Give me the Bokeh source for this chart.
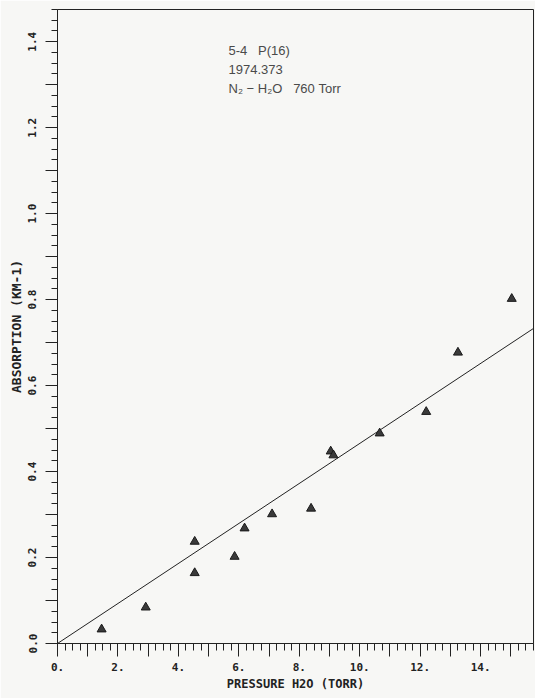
from bokeh.plotting import figure
from bokeh.models import Range1d, FixedTicker, CustomJSTickFormatter, Label
from bokeh.embed import file_html
from bokeh.resources import INLINE

# measured points: H2O pressure (Torr) vs absorption (km-1)
pressure = [1.46, 2.92, 4.54, 4.54, 5.86, 6.19, 7.10, 8.39, 9.04, 9.13, 10.66, 12.20, 13.25, 15.03]
absorption = [0.033, 0.084, 0.237, 0.164, 0.202, 0.268, 0.301, 0.314, 0.447, 0.438, 0.489, 0.539, 0.677, 0.802]

# fitted straight line (end points)
fit_x = [0.0, 15.75]
fit_y = [0.0, 0.733]

NB = "\u00a0"
annotation_lines = ["5-4" + NB * 3 + "P(16)", "1974.373",
                    "N\u2082" + NB + "\u2212" + NB + "H\u2082O" + NB * 3 + "760" + NB + "Torr"]

x_major = list(range(0, 16))
y_major = [round(0.1 * i, 1) for i in range(0, 15)]

BG = "#f7f7f5"
INK = "#222222"
FONT = "DejaVu Sans Mono"

p = figure(width=535, height=698, output_backend="svg", toolbar_location=None,
           x_range=Range1d(0, 15.75), y_range=Range1d(0, 1.475),
           min_border_left=57, min_border_right=2, min_border_top=9, min_border_bottom=55,
           background_fill_color=BG, border_fill_color=BG)
p.outline_line_color = INK
p.outline_line_width = 1
p.xgrid.visible = False
p.ygrid.visible = False

p.line(fit_x, fit_y, line_color=INK, line_width=1)
p.scatter(pressure, absorption, marker="triangle", size=9,
          fill_color="#3a3a3a", line_color="#1a1a1a", line_width=1)

# x axis
xa = p.xaxis[0]
xa.ticker = FixedTicker(ticks=x_major, minor_ticks=[i * 0.25 for i in range(0, 64)])
xa.formatter = CustomJSTickFormatter(code="return (Math.round(tick) % 2 == 0) ? tick.toFixed(0) + '.' : '';")
xa.axis_label = "PRESSURE H2O (TORR)"
xa.major_tick_out = 13
xa.minor_tick_out = 7
xa.major_label_standoff = 6
xa.axis_label_standoff = 3
xa.axis_label_text_font_size = "12px"

ya = p.yaxis[0]
ya.ticker = FixedTicker(ticks=y_major, minor_ticks=[i * 0.025 for i in range(0, 60)])
ya.formatter = CustomJSTickFormatter(code="return (Math.round(tick*10) % 2 == 0) ? tick.toFixed(1) : '';")
ya.axis_label = "ABSORPTION (KM-1)"
ya.major_label_orientation = "vertical"
ya.major_tick_out = 12
ya.minor_tick_out = 6
ya.major_label_standoff = 9
ya.axis_label_standoff = 2
ya.axis_label_text_font_size = "13px"

for ax in (xa, ya):
    ax.axis_line_color = INK
    ax.major_tick_line_color = INK
    ax.minor_tick_line_color = INK
    ax.major_tick_in = 0
    ax.minor_tick_in = 0
    ax.major_label_text_font = FONT
    ax.major_label_text_font_style = "bold"
    ax.major_label_text_font_size = "11px"
    ax.major_label_text_color = INK
    ax.axis_label_text_font = FONT
    ax.axis_label_text_font_style = "bold"
    ax.axis_label_text_color = INK

for i, t in enumerate(annotation_lines):
    p.add_layout(Label(x=171, y=593 - 19 * i, x_units="screen", y_units="screen",
                       text=t, text_font="Liberation Sans", text_font_size="13px",
                       text_color="#4a4a4a", text_baseline="middle"))

open("out.html", "w").write(file_html(p, INLINE))
